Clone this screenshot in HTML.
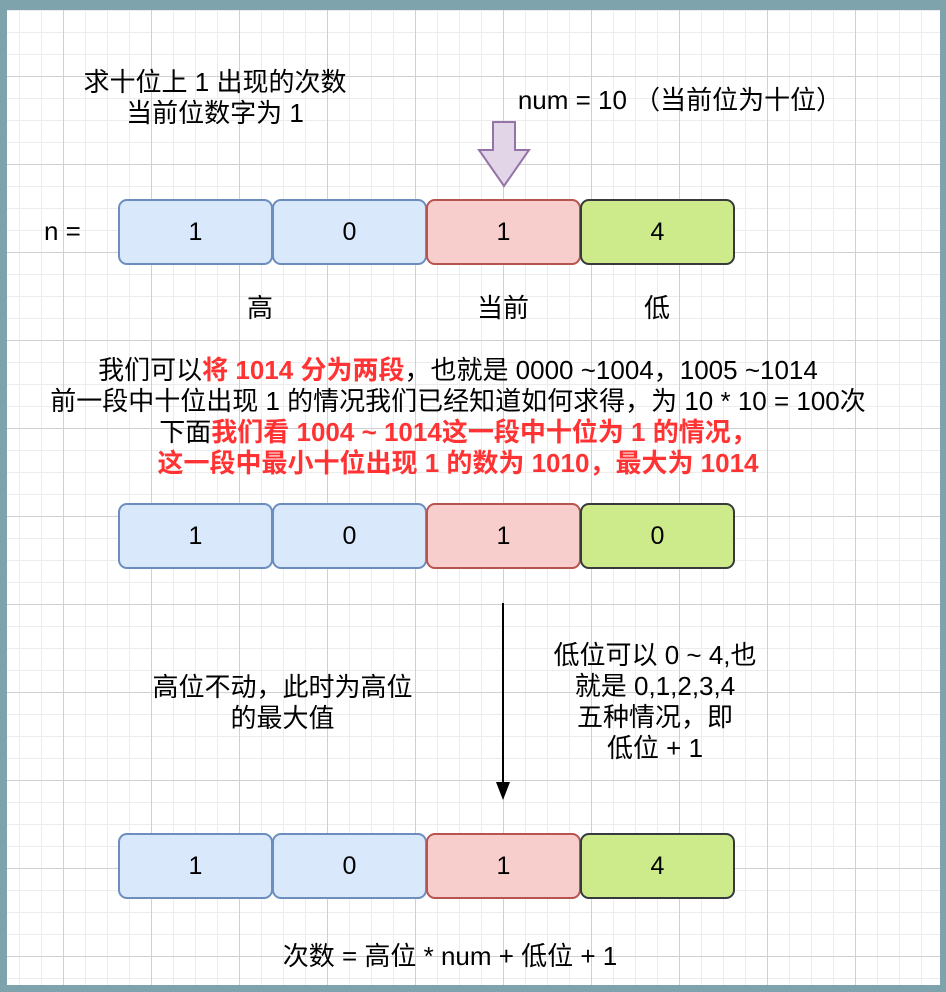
<!DOCTYPE html>
<html><head><meta charset="utf-8"><style>
body{margin:0;width:946px;height:992px;background:#7fa3ad;position:relative;overflow:hidden;font-family:"Liberation Sans","Noto Sans CJK SC",sans-serif;color:#000}
#c{position:absolute;left:7px;top:10px;width:933px;height:975px;background-color:#fff;
background-image:linear-gradient(#d0d0d0 1px,transparent 1px),linear-gradient(90deg,#d0d0d0 1px,transparent 1px),linear-gradient(#ececec 1px,transparent 1px),linear-gradient(90deg,#ececec 1px,transparent 1px);
background-size:88px 88px,88px 88px,22px 22px,22px 22px;background-position:0 66px,56px 0,0 0,12px 0}
.t{position:absolute;font-size:26px;text-align:center;white-space:nowrap;line-height:31px}
.b{position:absolute;border:2px solid;border-radius:9px;font-size:25px;display:flex;align-items:center;justify-content:center;box-sizing:border-box;height:66px}
.bl{background:#dae8fc;border-color:#6c8ebf}.rd{background:#f8cecc;border-color:#b85450}.gr{background:#cdeb8b;border-color:#36393d}
.r{color:#ff3333;font-weight:bold}
</style></head><body>
<div id="c"></div>
<div class="t" style="left:60px;top:67px;width:310px">求十位上 1 出现的次数<br>当前位数字为 1</div>
<div class="t" style="left:500px;top:85px;width:360px">num = 10 （当前位为十位）</div>
<svg style="position:absolute;left:0;top:0" width="946" height="992">
<polygon points="493,122 515,122 515,150 529,150 504,186 479,150 493,150" fill="#e1d5e7" stroke="#9673a6" stroke-width="2"/>
<line x1="503" y1="603" x2="503" y2="785" stroke="#000" stroke-width="2"/>
<polygon points="496,782 510,782 503,800" fill="#000"/>
</svg>
<div class="t" style="left:44px;top:216px">n =</div>
<div class="b bl" style="left:118px;top:199px;width:155px">1</div>
<div class="b bl" style="left:272px;top:199px;width:155px">0</div>
<div class="b rd" style="left:426px;top:199px;width:155px">1</div>
<div class="b gr" style="left:580px;top:199px;width:155px">4</div>
<div class="t" style="left:220px;top:293px;width:80px">高</div>
<div class="t" style="left:463px;top:293px;width:80px">当前</div>
<div class="t" style="left:617px;top:293px;width:80px">低</div>
<div class="t" style="left:0;top:355px;width:916px">我们可以<span class="r">将 1014 分为两段</span>，也就是 0000 ~1004，1005 ~1014<br>前一段中十位出现 1 的情况我们已经知道如何求得，为 10 * 10 = 100次<br>下面<span class="r">我们看 1004 ~ 1014这一段中十位为 1 的情况，</span><br><span class="r">这一段中最小十位出现 1 的数为 1010，最大为 1014</span></div>
<div class="b bl" style="left:118px;top:503px;width:155px">1</div>
<div class="b bl" style="left:272px;top:503px;width:155px">0</div>
<div class="b rd" style="left:426px;top:503px;width:155px">1</div>
<div class="b gr" style="left:580px;top:503px;width:155px">0</div>
<div class="t" style="left:130px;top:672px;width:305px">高位不动，此时为高位<br>的最大值</div>
<div class="t" style="left:530px;top:640px;width:250px">低位可以 0 ~ 4,也<br>就是 0,1,2,3,4<br>五种情况，即<br>低位 + 1</div>
<div class="b bl" style="left:118px;top:833px;width:155px">1</div>
<div class="b bl" style="left:272px;top:833px;width:155px">0</div>
<div class="b rd" style="left:426px;top:833px;width:155px">1</div>
<div class="b gr" style="left:580px;top:833px;width:155px">4</div>
<div class="t" style="left:200px;top:941px;width:500px">次数 = 高位 * num + 低位 + 1</div>
</body></html>
